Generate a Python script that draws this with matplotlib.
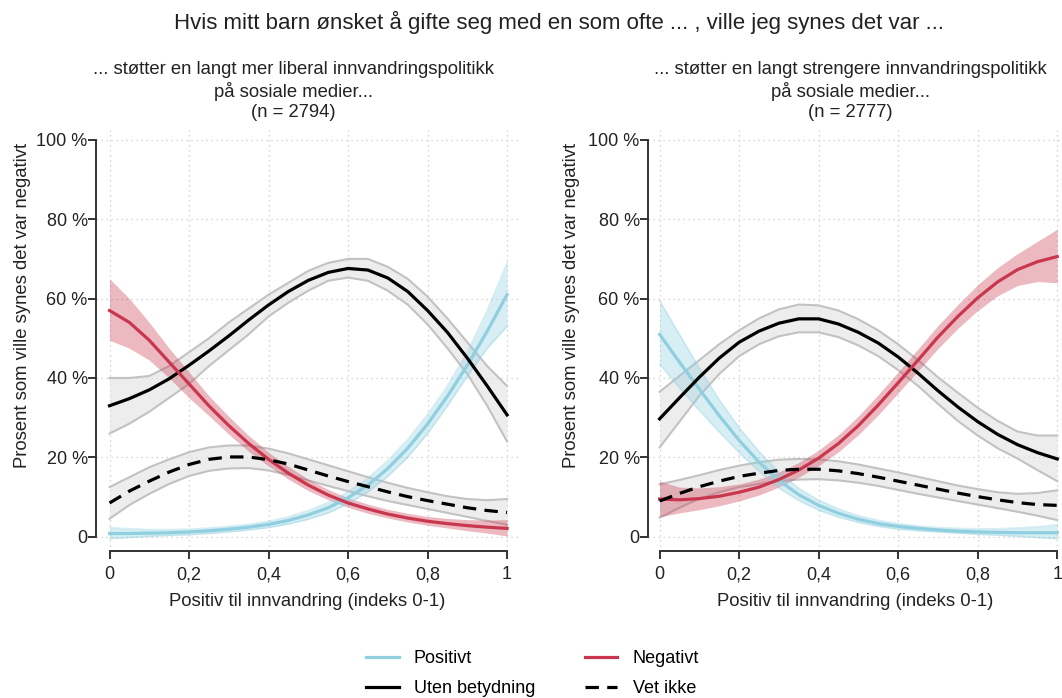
import matplotlib.pyplot as plt
import numpy as np

plt.rcParams['font.family'] = ['Liberation Sans', 'DejaVu Sans']

# x-verdier (indeks 0-1), avlest hver 0,05
x = [0.00, 0.05, 0.10, 0.15, 0.20, 0.25, 0.30, 0.35, 0.40, 0.45, 0.50,
     0.55, 0.60, 0.65, 0.70, 0.75, 0.80, 0.85, 0.90, 0.95, 1.00]

# ---- Venstre panel: liberal innvandringspolitikk ----
lib_uten = [33, 34.8, 37, 39.8, 43.2, 46.8, 50.6, 54.6, 58.4, 61.8, 64.6,
            66.6, 67.6, 67.2, 65.2, 61.8, 57, 51.5, 45, 38, 30.7]
lib_uten_hi = [40, 40, 40.5, 43, 46.5, 50, 54, 57.5, 61, 64, 67,
               69, 70, 70, 68, 65, 60.5, 55, 49, 43, 38]
lib_uten_lo = [26, 28.5, 31.5, 35, 38.5, 43, 47, 51, 55.5, 59, 62,
               64.5, 65.3, 64.5, 62, 58.5, 53.5, 47.5, 41, 33, 24]

lib_vet = [8.5, 11.5, 14, 16.3, 18.2, 19.5, 20.1, 20.1, 19.4, 18.3, 16.8,
           15.3, 13.9, 12.6, 11.3, 10.1, 9.1, 8.2, 7.3, 6.6, 6.1]
lib_vet_hi = [12.5, 15, 17.5, 19.5, 21.3, 22.5, 23, 23, 22.2, 21, 19.5,
              18, 16.5, 15, 13.6, 12.3, 11.2, 10.2, 9.5, 9.2, 9.5]
lib_vet_lo = [4.5, 8, 10.8, 13.3, 15.3, 16.6, 17.2, 17.3, 16.7, 15.6, 14.2,
              12.8, 11.5, 10.2, 9, 8, 7, 6, 5, 4, 3]

lib_neg = [57, 54, 49.5, 44, 38.5, 33, 28, 23.5, 19.5, 16, 13,
           10.5, 8.5, 7, 5.7, 4.7, 3.9, 3.3, 2.8, 2.4, 2.1]
lib_neg_hi = [65, 60, 54, 47.5, 41.5, 35.5, 30.3, 25.5, 21.3, 17.7, 14.5,
              11.9, 9.8, 8.2, 6.9, 5.9, 5.1, 4.6, 4.3, 4.2, 4.3]
lib_neg_lo = [49.5, 47.5, 44.5, 40, 35, 30.5, 25.8, 21.5, 17.8, 14.5, 11.6,
              9.3, 7.4, 5.9, 4.7, 3.7, 2.9, 2.2, 1.5, 0.9, 0.2]

lib_pos = [0.8, 0.8, 0.9, 1, 1.2, 1.5, 1.9, 2.4, 3.1, 4.1, 5.5,
           7.3, 9.8, 13, 17.2, 22.3, 28.4, 35.4, 43.2, 51.8, 61]
lib_pos_hi = [2.3, 2, 1.8, 1.8, 1.9, 2.2, 2.6, 3.1, 3.9, 5, 6.6,
              8.6, 11.3, 14.8, 19.2, 24.5, 30.8, 38, 46.5, 57, 69]
lib_pos_lo = [-0.5, -0.2, 0.1, 0.3, 0.5, 0.8, 1.2, 1.7, 2.3, 3.2, 4.4,
              6, 8.3, 11.3, 15.2, 20, 26, 33, 40.5, 47.5, 53]

# ---- Høyre panel: strengere innvandringspolitikk ----
str_uten = [29.7, 35, 40.2, 45, 49, 51.8, 53.8, 54.9, 54.9, 53.6, 51.5,
            48.8, 45.3, 41.2, 36.8, 32.7, 29, 25.8, 23.2, 21.2, 19.6]
str_uten_hi = [36.5, 40.5, 44.5, 48.5, 52, 55, 57.3, 58.5, 58.3, 57, 54.8,
               52, 48.5, 44.5, 40.2, 36.3, 32.5, 29.2, 26.5, 25.5, 25.5]
str_uten_lo = [22.5, 29, 35.5, 41, 45.5, 48.5, 50.5, 51.5, 51.5, 50.3, 48.2,
               45.5, 42, 38, 33.5, 29.2, 25.5, 22.3, 19.7, 16.8, 14]

str_vet = [9, 10.9, 12.6, 14, 15.2, 16, 16.7, 17, 17, 16.6, 15.9,
           15, 14, 13, 12, 11, 10.1, 9.3, 8.6, 8.1, 7.9]
str_vet_hi = [13.2, 14.3, 15.5, 16.8, 17.9, 18.8, 19.4, 19.6, 19.5, 19, 18.2,
              17.2, 16.2, 15.1, 14, 12.9, 12, 11.2, 10.8, 11, 11.7]
str_vet_lo = [4.8, 7.3, 9.6, 11.2, 12.5, 13.3, 14, 14.4, 14.5, 14.2, 13.6,
              12.8, 11.8, 10.8, 9.9, 9, 8.1, 7.2, 6.3, 5.3, 4.2]

str_neg = [9.5, 9.3, 9.6, 10.2, 11.2, 12.5, 14.4, 16.8, 19.8, 23.5, 28,
           33.2, 38.8, 44.5, 50.3, 55.5, 60.2, 64.2, 67.3, 69.3, 70.6]
str_neg_hi = [14, 12.5, 12.3, 12.6, 13.3, 14.5, 16.3, 18.7, 21.8, 25.7, 30.4,
              35.8, 41.5, 47.3, 53.2, 58.5, 63.5, 67.8, 71.3, 74.4, 77.5]
str_neg_lo = [5, 6, 6.8, 7.8, 9, 10.5, 12.5, 15, 17.9, 21.4, 25.7,
              30.7, 36.2, 41.8, 47.4, 52.5, 57, 60.7, 63.3, 64.3, 64]

str_pos = [51, 44, 37.2, 30.5, 24.3, 18.8, 14.2, 10.6, 7.9, 5.9, 4.4,
           3.3, 2.6, 2.1, 1.7, 1.4, 1.2, 1.1, 1, 1, 1]
str_pos_hi = [59.5, 51, 42.5, 34.5, 27.5, 21.5, 16.3, 12.2, 9.2, 7, 5.3,
              4.1, 3.3, 2.7, 2.3, 2.1, 2, 2, 2.2, 2.5, 3]
str_pos_lo = [43.5, 37.5, 31.8, 26.4, 21.2, 16.5, 12.3, 9.1, 6.7, 4.9, 3.6,
              2.6, 1.9, 1.5, 1.2, 0.9, 0.6, 0.4, 0.1, -0.2, -0.5]

titles = ["... støtter en langt mer liberal innvandringspolitikk\npå sosiale medier...\n(n = 2794)",
          "... støtter en langt strengere innvandringspolitikk\npå sosiale medier...\n(n = 2777)"]
xticks = [0, 0.2, 0.4, 0.6, 0.8, 1]
xticklabels = ["0", "0,2", "0,4", "0,6", "0,8", "1"]
yticks = [0, 20, 40, 60, 80, 100]
yticklabels = ["0", "20 %", "40 %", "60 %", "80 %", "100 %"]

BLUE = '#8fcfe0'
RED = '#c9374f'
GREY_FILL = '#e2e2e2'
GREY_EDGE = '#c2c2c2'
TXT = '#222222'

panels = [
    dict(rect=[0.0904, 0.2106, 0.3983, 0.6032], xlim=(-0.034, 1.03),
         title_x=0.466, ylab_x=-0.154,
         uten=(lib_uten, lib_uten_lo, lib_uten_hi), vet=(lib_vet, lib_vet_lo, lib_vet_hi),
         neg=(lib_neg, lib_neg_lo, lib_neg_hi), pos=(lib_pos, lib_pos_lo, lib_pos_hi)),
    dict(rect=[0.6102, 0.2106, 0.3898, 0.6032], xlim=(-0.029, 1.012),
         title_x=0.488, ylab_x=-0.165,
         uten=(str_uten, str_uten_lo, str_uten_hi), vet=(str_vet, str_vet_lo, str_vet_hi),
         neg=(str_neg, str_neg_lo, str_neg_hi), pos=(str_pos, str_pos_lo, str_pos_hi)),
]

fig = plt.figure(figsize=(10.62, 6.98), dpi=100)

for i, p in enumerate(panels):
    ax = fig.add_axes(p['rect'])

    # konfidensbånd
    for key in ['uten', 'vet']:
        m, lo, hi = p[key]
        ax.fill_between(x, lo, hi, color=GREY_FILL, alpha=0.6, lw=0, zorder=1)
        ax.plot(x, lo, color=GREY_EDGE, lw=1.5, zorder=1.5)
        ax.plot(x, hi, color=GREY_EDGE, lw=1.5, zorder=1.5)
    m, lo, hi = p['neg']
    ax.fill_between(x, lo, hi, color=RED, alpha=0.35, lw=0, zorder=2)
    m, lo, hi = p['pos']
    ax.fill_between(x, lo, hi, color=BLUE, alpha=0.35, lw=0, zorder=2)
    ax.plot(x, lo, color=BLUE, alpha=0.35, lw=1.2, zorder=2)
    ax.plot(x, hi, color=BLUE, alpha=0.35, lw=1.2, zorder=2)

    # linjer
    ax.plot(x, p['pos'][0], color=BLUE, lw=2.3, zorder=3, label='Positivt')
    ax.plot(x, p['uten'][0], color='black', lw=2.3, zorder=3, label='Uten betydning')
    ax.plot(x, p['neg'][0], color=RED, lw=2.3, zorder=3, label='Negativt')
    ax.plot(x, p['vet'][0], color='black', lw=2.3, ls=(0, (4.2, 2.6)), zorder=3,
            label='Vet ikke')

    ax.set_xlim(*p['xlim'])
    ax.set_ylim(-3.6, 102.5)
    ax.set_xticks(xticks)
    ax.set_xticklabels(xticklabels)
    ax.set_yticks(yticks)
    ax.set_yticklabels(yticklabels)
    ax.grid(True, linestyle=(0, (1, 3)), color='#c8c8c8', lw=0.9)
    ax.set_axisbelow(True)
    for s in ['top', 'right']:
        ax.spines[s].set_visible(False)
    ax.spines['left'].set_bounds(0, 100)
    ax.spines['bottom'].set_bounds(0, 1)
    for s in ['left', 'bottom']:
        ax.spines[s].set_color('#333333')
        ax.spines[s].set_linewidth(1.4)
    ax.tick_params(axis='both', direction='out', length=6, width=1.4,
                   color='#333333', labelsize=13, labelcolor=TXT)
    ax.tick_params(axis='x', pad=5)
    ax.tick_params(axis='y', pad=0)
    ax.set_xlabel("Positiv til innvandring (indeks 0-1)", fontsize=13.3, color=TXT,
                  labelpad=7)
    ax.set_ylabel("Prosent som ville synes det var negativt", fontsize=13.3, color=TXT)
    ax.yaxis.set_label_coords(p['ylab_x'], 0.584)
    ax.set_title(titles[i], fontsize=13.3, color=TXT, linespacing=1.25, pad=9,
                 x=p['title_x'])
    if i == 0:
        handles, labels = ax.get_legend_handles_labels()

fig.suptitle("Hvis mitt barn ønsket å gifte seg med en som ofte ... , ville jeg synes det var ...",
             x=0.526, y=0.985, fontsize=16, color=TXT)

fig.legend(handles, labels, ncol=2, loc='center', bbox_to_anchor=(0.5015, 0.035),
           frameon=False, fontsize=13, handlelength=1.8, columnspacing=2.75,
           handletextpad=0.85, labelspacing=0.7)

plt.savefig('out.png', dpi=100)
